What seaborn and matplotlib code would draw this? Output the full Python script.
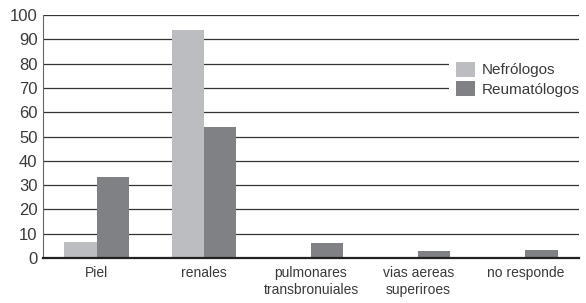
import matplotlib
matplotlib.use("Agg")
import matplotlib.pyplot as plt
import seaborn as sns
import pandas as pd
import numpy as np

categories = ["Piel", "renales", "pulmonares\ntransbronuiales", "vias aereas\nsuperiroes", "no responde"]
nefrologos = [6.5, 94, 0, 0, 0]
reumatologos = [33.5, 54, 6.2, 2.8, 3.2]
series_names = ["Nefrólogos", "Reumatólogos"]
yticks = [0, 10, 20, 30, 40, 50, 60, 70, 80, 90, 100]

df = pd.DataFrame({
    "cat": categories * 2,
    "val": nefrologos + reumatologos,
    "serie": [series_names[0]] * len(categories) + [series_names[1]] * len(categories),
})

sns.set_style("white")
plt.rcParams['font.family'] = ['Liberation Sans', 'DejaVu Sans']

fig = plt.figure(figsize=(5.86, 3.03), dpi=100)
ax = fig.add_axes([0.0734, 0.1485, 0.9146, 0.802])

pal = {series_names[0]: "#bcbdc0", series_names[1]: "#808184"}
sns.barplot(data=df, x="cat", y="val", hue="serie", order=categories,
            hue_order=series_names, palette=pal, width=0.6, saturation=1,
            ax=ax, zorder=3, edgecolor="none", linewidth=0)

ax.set_ylim(0, 100)
ax.set_xlim(-0.5, len(categories) - 0.5)
ax.set_yticks(yticks)
ax.set_yticklabels([str(t) for t in yticks], fontsize=12, color="#3a3a3a")
ax.yaxis.grid(True, color="#333333", linewidth=0.9, zorder=0)
ax.set_axisbelow(True)
ax.set_xlabel("")
ax.set_ylabel("")
ax.tick_params(axis="x", which="major", length=0, labelsize=10, labelcolor="#3a3a3a", pad=6)
ax.tick_params(axis="y", which="major", length=2, color="#555555", pad=2)
ax.set_xticks(np.arange(0.5, len(categories) - 0.5, 1), minor=True)
ax.tick_params(axis="x", which="minor", length=4, color="#555555", direction="out")

for s in ["top", "right"]:
    ax.spines[s].set_visible(False)
ax.spines["left"].set_color("#666666")
ax.spines["left"].set_linewidth(0.8)
ax.spines["bottom"].set_color("#222222")
ax.spines["bottom"].set_linewidth(1.6)
ax.spines["bottom"].set_zorder(5)

leg = ax.legend(loc="upper left", bbox_to_anchor=(0.757, 0.84), frameon=True,
                facecolor="white", edgecolor="none", framealpha=1, fontsize=11,
                handlelength=1.2, handleheight=1.15, handletextpad=0.45,
                labelspacing=0.25, borderpad=0.5, borderaxespad=0)
for t in leg.get_texts():
    t.set_color("#3a3a3a")
leg.set_zorder(10)

fig.savefig("out.png", dpi=100, facecolor="white")
